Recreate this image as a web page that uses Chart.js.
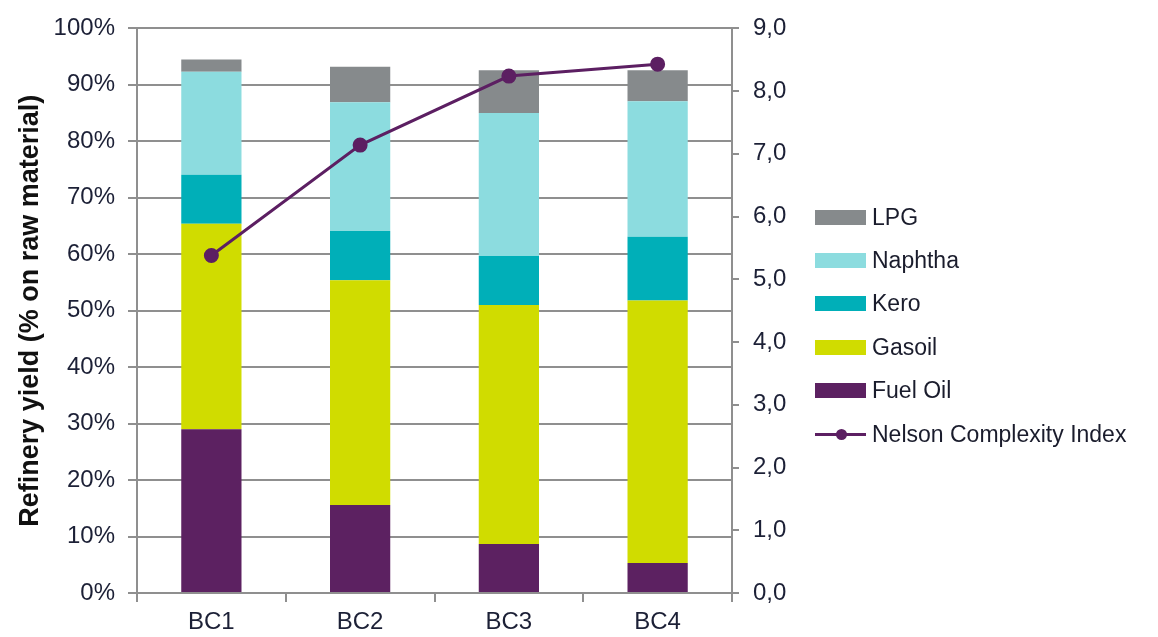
<!DOCTYPE html>
<html lang="en">
<head>
    <meta charset="UTF-8">
    <title>Refinery yield by base case</title>
    <script src="https://cdn.jsdelivr.net/npm/chart.js"></script>
    <style>
        body {
            margin: 0;
            background: #fff;
            font-family: 'Liberation Sans', Arial, sans-serif;
        }
        .wrap {
            position: relative;
            width: 1158px;
            height: 637px;
        }
        .legend {
            position: absolute;
            left: 815px;
            top: 0;
        }
        .item {
            position: absolute;
            left: 0;
            width: 340px;
            height: 30px;
            display: flex;
            align-items: center;
            font-size: 23px;
            color: #1a1c2c;
            white-space: nowrap;
        }
        .box {
            width: 51px;
            height: 15px;
            margin-right: 6px;
        }
        .lineKey {
            position: relative;
            width: 51px;
            height: 15px;
            margin-right: 6px;
        }
        .lineKey:before {
            content: '';
            position: absolute;
            left: 0; right: 0; top: 6px;
            height: 3px;
            background: #5c1f62;
        }
        .lineKey:after {
            content: '';
            position: absolute;
            left: 21px; top: 2px;
            width: 11px; height: 11px;
            border-radius: 50%;
            background: #5c1f62;
        }
    </style>
</head>
<body>
<div class="wrap">
    <canvas id="chart" width="1158" height="637"></canvas>
    <div class="legend" id="legend"></div>
</div>
<script>
    // data
    const categories = ['BC1', 'BC2', 'BC3', 'BC4'];
    const fuelOil = [29.0, 15.6, 8.7, 5.3];
    const gasoil  = [36.4, 39.8, 42.3, 46.5];
    const kero    = [8.7, 8.7, 8.7, 11.3];
    const naphtha = [18.2, 22.8, 25.3, 24.0];
    const lpg     = [2.2, 6.3, 7.6, 5.5];
    const nelson  = [5.38, 7.14, 8.24, 8.43];

    const colors = {
        fuel: '#5c2161',
        gasoil: '#d0dc00',
        kero: '#00afb8',
        naphtha: '#8cdcdf',
        lpg: '#868a8c',
        line: '#5c1f62'
    };

    const fontFamily = "'Liberation Sans', Arial, sans-serif";
    const tickFont = { family: fontFamily, size: 24 };
    const tickColor = '#1c2036';
    const gridColor = '#8f8f8f';

    function bar(label, data, color) {
        return {
            type: 'bar', label: label, data: data,
            backgroundColor: color, borderWidth: 0,
            barPercentage: 0.405, categoryPercentage: 1,
            yAxisID: 'y', order: 1
        };
    }

    const ctx = document.getElementById('chart').getContext('2d');
    new Chart(ctx, {
        data: {
            labels: categories,
            datasets: [
                bar('Fuel Oil', fuelOil, colors.fuel),
                bar('Gasoil', gasoil, colors.gasoil),
                bar('Kero', kero, colors.kero),
                bar('Naphtha', naphtha, colors.naphtha),
                bar('LPG', lpg, colors.lpg),
                {
                    type: 'line', label: 'Nelson Complexity Index', data: nelson,
                    borderColor: colors.line, backgroundColor: colors.line,
                    borderWidth: 3, pointRadius: 6, pointHoverRadius: 6,
                    yAxisID: 'y1', stack: 'line', order: 0, tension: 0
                }
            ]
        },
        options: {
            responsive: false,
            animation: false,
            layout: { padding: { top: 23, right: 356, left: 0, bottom: 0 } },
            plugins: { legend: { display: false }, tooltip: { enabled: false } },
            scales: {
                x: {
                    stacked: true,
                    grid: { drawOnChartArea: false, color: gridColor, lineWidth: 2, tickLength: 9, offset: true },
                    border: { color: gridColor, width: 2 },
                    ticks: { color: tickColor, font: tickFont, padding: 6 },
                    afterFit: function(s) { s.height = 44; }
                },
                y: {
                    stacked: true,
                    min: 0, max: 100,
                    grid: { color: gridColor, lineWidth: 2, tickLength: 9 },
                    border: { color: gridColor, width: 2 },
                    ticks: {
                        stepSize: 10, color: tickColor, font: tickFont, padding: 13,
                        callback: function(v) { return v + '%'; }
                    },
                    title: {
                        display: true,
                        text: 'Refinery yield (% on raw material)',
                        color: '#111',
                        font: { family: fontFamily, size: 27, weight: 'bold' },
                        padding: { top: 14, bottom: 0 }
                    },
                    afterFit: function(s) { s.width = 137; }
                },
                y1: {
                    position: 'right',
                    stacked: false,
                    min: 0, max: 9,
                    grid: { drawOnChartArea: false, color: gridColor, lineWidth: 2, tickLength: 7 },
                    border: { color: gridColor, width: 2 },
                    ticks: {
                        stepSize: 1, color: tickColor, font: tickFont, padding: 14,
                        callback: function(v) { return v.toFixed(1).replace('.', ','); }
                    },
                    afterFit: function(s) { s.width = 70; }
                }
            }
        }
    });

    // legend, top to bottom
    const legendItems = [
        ['LPG', colors.lpg], ['Naphtha', colors.naphtha], ['Kero', colors.kero],
        ['Gasoil', colors.gasoil], ['Fuel Oil', colors.fuel], ['Nelson Complexity Index', null]
    ];
    const legend = document.getElementById('legend');
    legendItems.forEach(function(it, i) {
        const row = document.createElement('div');
        row.className = 'item';
        row.style.top = (202 + i * 43.4) + 'px';
        const key = document.createElement('div');
        if (it[1]) { key.className = 'box'; key.style.background = it[1]; }
        else { key.className = 'lineKey'; }
        const txt = document.createElement('span');
        txt.textContent = it[0];
        row.appendChild(key);
        row.appendChild(txt);
        legend.appendChild(row);
    });
</script>
</body>
</html>
